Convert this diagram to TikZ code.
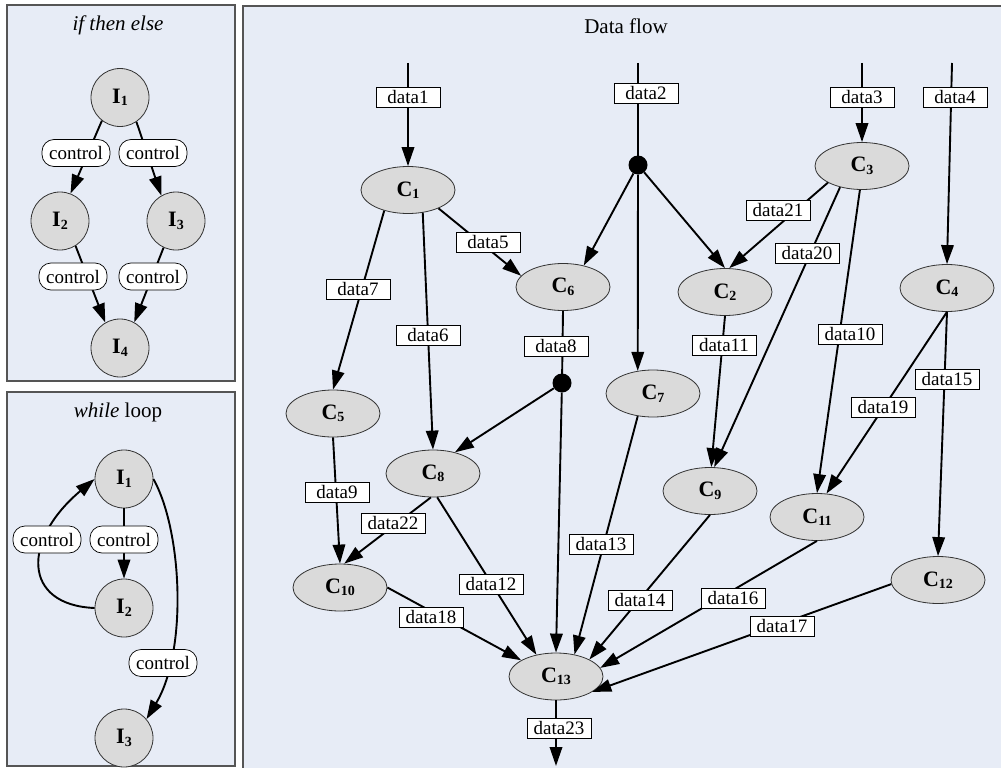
\documentclass[tikz,border=0pt]{standalone}
\usepackage{fontspec}
\setmainfont{Liberation Serif}
\usetikzlibrary{arrows.meta,shapes.geometric}
\definecolor{panelbg}{RGB}{231,236,246}
\definecolor{panelbd}{RGB}{85,85,85}
\definecolor{nodebg}{RGB}{218,218,218}
\newcommand\nsub[1]{\raisebox{-2.5pt}{\fontsize{14}{14}\selectfont\bfseries #1}}
\newcommand\nname[2]{{\bfseries #1\nsub{#2}}}
\begin{document}
\begin{tikzpicture}[x=1pt,y=-1pt,
  panel/.style={fill=panelbg, draw=panelbd, line width=1.2pt},
  cnode/.style={ellipse, draw=black!80, line width=0.8pt, fill=nodebg, minimum width=94pt, minimum height=47pt, inner sep=0pt, font=\fontsize{22}{22}\selectfont},
  inode/.style={circle, draw=black!80, line width=0.8pt, fill=nodebg, minimum size=58pt, inner sep=0pt, font=\fontsize{22}{22}\selectfont},
  dlabel/.style={draw=black, fill=white, line width=0.7pt, minimum width=64pt, minimum height=20pt, inner sep=1pt, font=\fontsize{19}{19}\selectfont},
  clabel/.style={draw=black, fill=white, rounded corners=12pt, line width=0.7pt, minimum width=68pt, minimum height=27pt, inner sep=1pt, font=\fontsize{19}{19}\selectfont},
  dotnode/.style={circle, fill=black, minimum size=19pt, inner sep=0pt},
  flow/.style={line width=1.9pt, -{Triangle[length=19pt,width=12.5pt]}},
  plainflow/.style={line width=1.9pt},
  ptitle/.style={font=\fontsize{21}{21}\selectfont}
]
\useasboundingbox (0,0) rectangle (1001,768);
\clip (0,0) rectangle (1001,768);
% panels
\draw[panel] (7,5) rectangle (235,381);
\draw[panel] (7,392) rectangle (235,766);
\draw[panel] (243,6) rectangle (1020,790);
\node[ptitle] (t1) at (118,25) {\textit{if then else}};
\node[ptitle] (t2) at (118,412) {\textit{while} loop};
\node[ptitle] (t3) at (626,26) {Data flow};

% ---------- if then else ----------
\node[inode] (I1) at (120,97.5) {\nname{I}{1}};
\node[inode] (I2) at (60,221) {\nname{I}{2}};
\node[inode] (I3) at (176,221) {\nname{I}{3}};
\node[inode] (I4) at (120,348) {\nname{I}{4}};
\draw[flow] (I1.232) -- (I2.69);
\draw[flow] (I1.304) -- (I3.120);
\draw[flow] (I2.302) -- (I4.120);
\draw[flow] (I3.245) -- (I4.61);
\node[clabel] (c1) at (76,153) {control};
\node[clabel] (c2) at (153,153) {control};
\node[clabel] (c3) at (73,276.5) {control};
\node[clabel] (c4) at (153,276.5) {control};

% ---------- while loop ----------
\node[inode] (J1) at (124,479) {\nname{I}{1}};
\node[inode] (J2) at (124,608) {\nname{I}{2}};
\node[inode] (J3) at (124,738) {\nname{I}{3}};
\draw[flow] (J1.south) -- (J2.north);
\draw[flow] (J2.west) .. controls (22,605) and (22,540) .. (J1.west);
\draw[flow] (J1.east) .. controls (182,530) and (188,650) .. (J3.40);
\node[clabel] (c5) at (47,539.5) {control};
\node[clabel] (c6) at (124,539.5) {control};
\node[clabel] (c7) at (163,663) {control};

% ---------- data flow ----------
\coordinate (in1) at (408,63);
\coordinate (in2) at (638,63);
\coordinate (in3) at (862,63);
\coordinate (in4) at (952,63);
\coordinate (out) at (556,766);
\node[cnode] (C1) at (408,190) {\nname{C}{1}};
\node[cnode] (C2) at (725,292) {\nname{C}{2}};
\node[cnode] (C3) at (862,166) {\nname{C}{3}};
\node[cnode] (C4) at (947,288) {\nname{C}{4}};
\node[cnode] (C5) at (333,413.5) {\nname{C}{5}};
\node[cnode] (C6) at (563,287) {\nname{C}{6}};
\node[cnode] (C7) at (653,393.5) {\nname{C}{7}};
\node[cnode] (C8) at (433,473.5) {\nname{C}{8}};
\node[cnode] (C9) at (710,491) {\nname{C}{9}};
\node[cnode] (C10) at (340,587.5) {\nname{C}{10}};
\node[cnode] (C11) at (817,517) {\nname{C}{11}};
\node[cnode] (C12) at (938,580) {\nname{C}{12}};
\node[cnode] (C13) at (556,676.5) {\nname{C}{13}};
\node[dotnode] (d1) at (638,165) {};
\node[dotnode] (d2) at (562,383) {};

\draw[flow] (in1) -- (C1.north);
\draw[plainflow] (in2) -- (d1.center);
\draw[flow] (in3) -- (C3.north);
\draw[flow] (in4) -- (C4.north);
\draw[flow] (C1.329) -- (C6.165);
\draw[flow] (C1.303) -- (C8.north);
\draw[flow] (C1.221) -- (C5.north);
\draw[flow] (d1) -- (C6.46);
\draw[flow] (d1) -- (C2.north);
\draw[flow] (d1) -- (C7.124);
\draw[flow] (C3.206) -- (C2.80);
\draw[flow] (C3.224) -- (C9.80);
\draw[flow] (C3.265) -- (C11.north);
\draw[flow] (C2.south) -- (C9.87);
\draw[flow] (C4.south) -- (C11.68);
\draw[flow] (C4.south) -- (C12.north);
\draw[plainflow] (C6.south) -- (d2.center);
\draw[flow] (d2) -- (C8.44);
\draw[flow] (d2) -- (C13.north);
\draw[flow] (C5.south) -- (C10.north);
\draw[flow] (C8.265) -- (C10.80);
\draw[flow] (C8.280) -- (C13.132);
\draw[flow] (C7.236) -- (C13.50);
\draw[flow] (C9.south) -- (C13.27);
\draw[flow] (C11.south) -- (C13.11);
\draw[flow] (C12.185) -- (C13.337);
\draw[flow] (C10.east) -- (C13.155);
\draw[flow] (C13.south) -- (out);

\node[dlabel] (l1) at (408,97) {data1};
\node[dlabel] (l2) at (646,93) {data2};
\node[dlabel] (l3) at (862,97) {data3};
\node[dlabel] (l4) at (955,97) {data4};
\node[dlabel] (l5) at (488,242) {data5};
\node[dlabel] (l6) at (428,335) {data6};
\node[dlabel] (l7) at (358,289) {data7};
\node[dlabel] (l8) at (556,346) {data8};
\node[dlabel] (l9) at (337,492) {data9};
\node[dlabel] (l10) at (850,334) {data10};
\node[dlabel] (l11) at (724,345) {data11};
\node[dlabel] (l12) at (491,584) {data12};
\node[dlabel] (l13) at (601,544) {data13};
\node[dlabel] (l14) at (640,600) {data14};
\node[dlabel] (l15) at (947,379) {data15};
\node[dlabel] (l16) at (733,598) {data16};
\node[dlabel] (l17) at (782,626) {data17};
\node[dlabel] (l18) at (431,617) {data18};
\node[dlabel] (l19) at (883,407) {data19};
\node[dlabel] (l20) at (807,253) {data20};
\node[dlabel] (l21) at (778,210) {data21};
\node[dlabel] (l22) at (393,523) {data22};
\node[dlabel] (l23) at (559,728) {data23};
\end{tikzpicture}
\end{document}
